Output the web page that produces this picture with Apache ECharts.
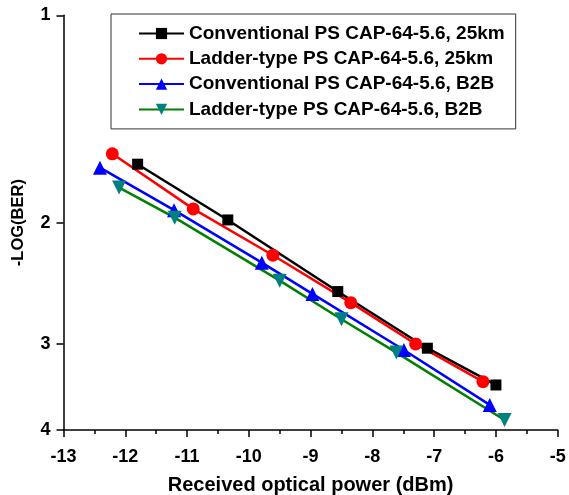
<!DOCTYPE html>
<html>
<head>
<meta charset="utf-8">
<script src="https://cdn.jsdelivr.net/npm/echarts@6/dist/echarts.min.js"></script>
<style>
  html, body { margin: 0; padding: 0; background: #fff; }
  #chart { width: 569px; height: 495px; }
</style>
</head>
<body>
<div id="chart"></div>
<script>
// data: [received power dBm, -log(BER)]
const convX25 = [-11.80, -10.34, -8.56, -7.11, -6.00];
const convY25 = [1.645, 1.982, 2.518, 3.043, 3.441];
const ladX25 = [-12.21, -10.90, -9.61, -8.35, -7.30, -6.21];
const ladY25 = [1.589, 1.910, 2.230, 2.613, 3.000, 3.403];
const convXB2B = [-12.41, -11.21, -9.79, -8.97, -7.49, -6.10];
const convYB2B = [1.664, 1.918, 2.286, 2.538, 3.061, 3.678];
const ladXB2B = [-12.10, -11.20, -9.50, -8.50, -7.61, -5.86];
const ladYB2B = [1.779, 1.967, 2.428, 2.762, 3.088, 3.868];
const yTicks = [1, 2, 3, 4];
const names = [
  "Conventional PS CAP-64-5.6, 25km",
  "Ladder-type PS CAP-64-5.6, 25km",
  "Conventional PS CAP-64-5.6, B2B",
  "Ladder-type PS CAP-64-5.6, B2B",
];

function pairs(xs, ys) {
  return xs.map((x, i) => [x, ys[i]]);
}

const font = "Liberation Sans, Arial, sans-serif";
let myChart = echarts.init(document.getElementById("chart"));
myChart.setOption({
  animation: false,
  grid: { left: 63.5, right: 11.3, top: 15.3, bottom: 65, outerBoundsMode: "none" },
  legend: {
    orient: "vertical",
    left: 111,
    top: 14,
    padding: [10, 11, 10, 27],
    itemGap: 6.3,
    itemWidth: 45,
    itemHeight: 14,
    borderColor: "#333",
    borderWidth: 1,
    textStyle: { color: "#000", fontSize: 19, lineHeight: 19, fontWeight: "bold", fontFamily: font },
    data: names,
  },
  xAxis: {
    type: "value",
    min: -13,
    max: -5,
    interval: 1,
    name: "Received optical power (dBm)",
    nameLocation: "middle",
    nameGap: 45,
    nameTextStyle: { color: "#000", fontSize: 20, fontWeight: "bold", fontFamily: font },
    axisLine: { show: true, lineStyle: { color: "#000", width: 1.5 } },
    axisTick: { show: true, inside: false, length: 7, lineStyle: { color: "#000", width: 1.5 } },
    minorTick: { show: true, splitNumber: 2, length: 4, lineStyle: { color: "#000", width: 1.5 } },
    axisLabel: { color: "#000", fontSize: 18, fontWeight: "bold", fontFamily: font, margin: 18 },
    splitLine: { show: false },
  },
  yAxis: {
    type: "log",
    logBase: 10,
    min: 1,
    max: 4,
    inverse: true,
    name: "-LOG(BER)",
    nameLocation: "middle",
    nameGap: 37,
    nameTextStyle: { color: "#000", fontSize: 16.5, fontWeight: "bold", fontFamily: font },
    axisLine: { show: true, lineStyle: { color: "#000", width: 1.5 } },
    axisTick: { show: true, inside: false, length: 7, customValues: yTicks, lineStyle: { color: "#000", width: 1.5 } },
    axisLabel: { color: "#000", fontSize: 18, fontWeight: "bold", fontFamily: font, margin: 13, customValues: yTicks },
    splitLine: { show: false },
  },
  series: [
    {
      name: names[0],
      type: "line",
      data: pairs(convX25, convY25),
      symbol: "rect",
      symbolSize: 11,
      itemStyle: { color: "#000" },
      lineStyle: { color: "#000", width: 2.5 },
    },
    {
      name: names[1],
      type: "line",
      data: pairs(ladX25, ladY25),
      symbol: "circle",
      symbolSize: 13,
      itemStyle: { color: "#ff0000" },
      lineStyle: { color: "#ff0000", width: 2.5 },
    },
    {
      name: names[2],
      type: "line",
      data: pairs(convXB2B, convYB2B),
      symbol: "triangle",
      symbolSize: 14,
      itemStyle: { color: "#0000ff" },
      lineStyle: { color: "#0000ff", width: 2.5 },
    },
    {
      name: names[3],
      type: "line",
      data: pairs(ladXB2B, ladYB2B),
      symbol: "triangle",
      symbolRotate: 180,
      symbolSize: 14,
      itemStyle: { color: "#008080" },
      lineStyle: { color: "#008000", width: 2.5 },
    },
  ],
});
</script>
</body>
</html>
